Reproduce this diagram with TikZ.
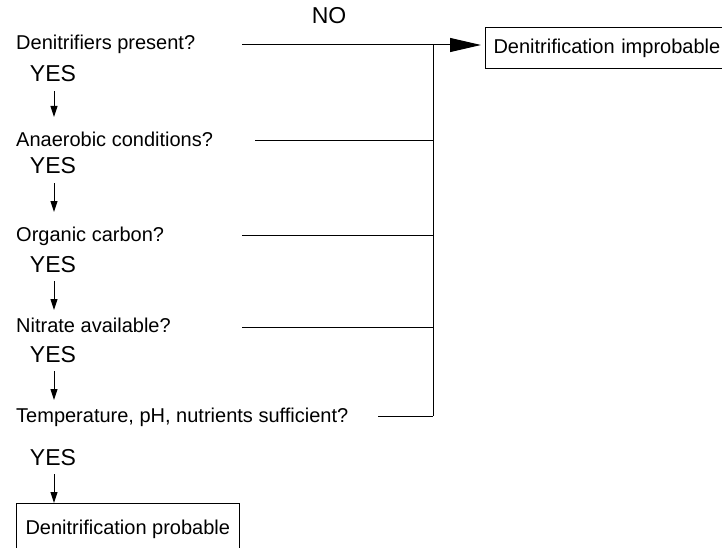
\documentclass[tikz,border=0pt]{standalone}
\usepackage{fontspec}
\setmainfont{Liberation Sans}
\usetikzlibrary{arrows.meta}
\tikzset{
  question/.style={anchor=base west, inner sep=0pt, font=\fontsize{20}{24}\selectfont},
  answer/.style={anchor=base, inner sep=0pt, font=\fontsize{23}{27}\selectfont},
  outcome/.style={draw, line width=1pt, anchor=north west, inner xsep=8pt, inner ysep=0pt, font=\fontsize{20}{24}\selectfont},
  wire/.style={line width=1pt},
  yesarrow/.style={line width=1pt, -{Triangle[length=11pt,width=7pt]}},
  noarrow/.style={line width=1pt, -{Triangle[length=31pt,width=14pt]}}
}
\begin{document}
\begin{tikzpicture}[x=1pt,y=-1pt]
\useasboundingbox (0,0) rectangle (722,548);
\clip (0,0) rectangle (722,548);

% questions
\node[question] (q1) at (16,50) {Denitrifiers present?};
\node[question] (q2) at (16,147) {Anaerobic conditions?};
\node[question] (q3) at (16,241) {Organic carbon?};
\node[question] (q4) at (16,332) {Nitrate available?};
\node[question] (q5) at (16,422) {Temperature, pH, nutrients sufficient?};

% answers
\node[answer] (y1) at (53,82) {YES};
\node[answer] (y2) at (53,174) {YES};
\node[answer] (y3) at (53,272) {YES};
\node[answer] (y4) at (53,362) {YES};
\node[answer] (y5) at (53,465) {YES};
\node[answer] (no) at (329,24) {NO};

% outcomes
\node[outcome, minimum width=260pt, minimum height=41pt, text width=244pt, align=left] (improb) at (485,27) {Denitrification improbable};
\node[outcome, minimum width=222pt, minimum height=52pt, inner xsep=9pt] (prob) at (16,503) {Denitrification probable};

% NO connectors
\coordinate (l1) at (242,45);
\coordinate (l2) at (255,141);
\coordinate (l3) at (242,235);
\coordinate (l4) at (242,327);
\coordinate (l5) at (378,416);
\coordinate (bustop) at (433,45);
\coordinate (busbot) at (433,416);
\draw[noarrow, shorten >=4pt] (l1) -- (l1 -| improb.west);
\draw[wire] (bustop) -- (busbot);
\draw[wire] (l2) -- (l2 -| bustop);
\draw[wire] (l3) -- (l3 -| bustop);
\draw[wire] (l4) -- (l4 -| bustop);
\draw[wire] (l5) -- (busbot);

% YES arrows
\coordinate (t2) at (54,117);
\coordinate (t3) at (54,212);
\coordinate (t4) at (54,310);
\coordinate (t5) at (54,400);
\draw[yesarrow] ([yshift=-9pt]y1.south -| t2) -- (t2);
\draw[yesarrow] ([yshift=-9pt]y2.south -| t3) -- (t3);
\draw[yesarrow] ([yshift=-9pt]y3.south -| t4) -- (t4);
\draw[yesarrow] ([yshift=-9pt]y4.south -| t5) -- (t5);
\draw[yesarrow] ([yshift=-9pt]y5.south -| t5) -- (prob.north -| t5);
\end{tikzpicture}
\end{document}
